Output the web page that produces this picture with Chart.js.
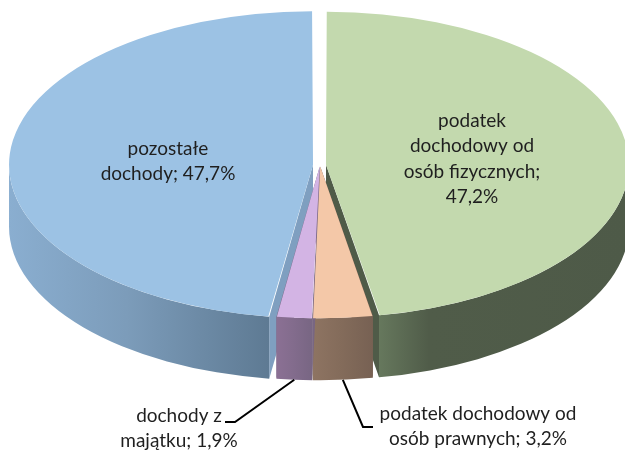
<!DOCTYPE html>
<html lang="pl">
<head>
<meta charset="utf-8">
<title>Struktura dochodów</title>
<script src="https://cdn.jsdelivr.net/npm/chart.js@4"></script>
<style>
  html, body { margin: 0; padding: 0; background: #fff; }
  canvas { display: block; }
</style>
</head>
<body>
<canvas id="wykres" width="625" height="450"></canvas>
<script>
// ─── Data ─────────────────────────────────────────────────────────────────────
const kategorie = [
  'podatek dochodowy od osób fizycznych',
  'podatek dochodowy od osób prawnych',
  'dochody z majątku',
  'pozostałe dochody',
];
const udzialy = [47.2, 3.2, 1.9, 47.7];
const wiersze = [
  ['podatek', 'dochodowy od', 'osób fizycznych;', '{v}'],
  ['podatek dochodowy od', 'osób prawnych; {v}'],
  ['dochody z', 'majątku; {v}'],
  ['pozostałe', 'dochody; {v}'],
];

// ─── Styles ───────────────────────────────────────────────────────────────────
const koloryGora = ['#c3d9ae', '#f4c8a8', '#d3b4e4', '#9cc2e4'];
const wysuniecie = [24, 12, 12, 28];
const kolorySciana = [
  ['#66785d', '#505c49', '#4e5a48'],
  ['#8e7462', '#846c5b', '#776153'],
  ['#8b7094', '#836c8d', '#786683'],
  ['#8aaed0', '#7c9cba', '#5e7a93'],
];
const koloryPrzekroj = ['#4f5b48', '#776153', '#786683', '#7f9fc0'];

// squash of the disc and height of its side
const SPLASZCZENIE = 0.505;
const GLEBOKOSC = 62;

// centre of each text block: x, y of first baseline, line step
const pozycjeEtykiet = [
  { x: 472, y: 127, krok: 25.3 },
  { x: 478, y: 420, krok: 25 },
  { x: 179, y: 422, krok: 25 },
  { x: 168, y: 155, krok: 24.5 },
];
// where the leader ends near the text (only for the two outside labels)
const koncowkiLinii = [null, [[363, 427], [373, 427]], [[235, 422], [225, 422]], null];

// ─── Geometry from the library's arc elements ─────────────────────────────────
function geometria(arc) {
  const off = (arc.options.offset || 0) / 4;
  const kat = (arc.startAngle + arc.endAngle) / 2;
  const fix = 1 - Math.sin(Math.min(Math.PI, arc.circumference));
  return {
    x: arc.x + Math.cos(kat) * off,
    y: arc.y + Math.sin(kat) * off * SPLASZCZENIE,
    r: arc.outerRadius + off * fix,
    kat,
  };
}

function sciana(ctx, arc, i) {
  const g = geometria(arc);
  const ry = g.r * SPLASZCZENIE;
  const a0 = arc.startAngle, a1 = arc.endAngle;
  const punkt = a => [g.x + Math.cos(a) * g.r, g.y + Math.sin(a) * ry];

  // cut faces, seen only on the big slices
  ctx.fillStyle = koloryPrzekroj[i];
  [a0, a1].forEach(a => {
    const p = punkt(a);
    if (Math.sin(a) <= 0) return;
    ctx.beginPath();
    ctx.moveTo(g.x, g.y);
    ctx.lineTo(p[0], p[1]);
    ctx.lineTo(p[0], p[1] + GLEBOKOSC);
    ctx.lineTo(g.x, g.y + GLEBOKOSC);
    ctx.closePath();
    ctx.fill();
  });

  // outer rim, lower half of the ellipse only
  const od = Math.max(a0, 0), doo = Math.min(a1, Math.PI);
  if (doo <= od) return;
  const pOd = punkt(od), pDo = punkt(doo);
  const lewa = Math.min(pOd[0], pDo[0]), prawa = Math.max(pOd[0], pDo[0]);
  const grad = ctx.createLinearGradient(lewa, 0, prawa, 0);
  const stopnie = i === 0 ? [0, 0.2, 1] : [0, 0.45, 1];
  kolorySciana[i].forEach((c, k) => grad.addColorStop(stopnie[k], c));
  ctx.fillStyle = grad;
  ctx.beginPath();
  ctx.ellipse(g.x, g.y, g.r, ry, 0, od, doo);
  ctx.ellipse(g.x, g.y + GLEBOKOSC, g.r, ry, 0, doo, od, true);
  ctx.closePath();
  ctx.fill();
}

// ─── Plugin: 3D disc + data labels ────────────────────────────────────────────
const dysk3d = {
  id: 'dysk3d',
  beforeDatasetDraw(chart, args) {
    const { ctx } = chart;
    const arcs = chart.getDatasetMeta(args.index).data;
    // big slices first, the small front ones paint over them
    const kolejnosc = [0, 3, 1, 2];
    kolejnosc.forEach(i => sciana(ctx, arcs[i], i));

    // squash the library's circle into the top face of the disc
    ctx.save();
    const cy = arcs[0].y;
    ctx.translate(0, cy);
    ctx.scale(1, SPLASZCZENIE);
    ctx.translate(0, -cy);
  },
  afterDatasetDraw(chart) {
    chart.ctx.restore();
  },
  afterDraw(chart) {
    const { ctx } = chart;
    const arcs = chart.getDatasetMeta(0).data;
    ctx.save();
    ctx.font = '19px Lato, "Open Sans", sans-serif';
    ctx.fillStyle = '#1f1f1f';
    ctx.textAlign = 'center';
    ctx.textBaseline = 'alphabetic';
    udzialy.forEach((v, i) => {
      const poz = pozycjeEtykiet[i];
      const tekst = String(v).replace('.', ',') + '%';
      wiersze[i].forEach((w, n) => {
        ctx.fillText(w.replace('{v}', tekst), poz.x, poz.y + n * poz.krok);
      });
      const koniec = koncowkiLinii[i];
      if (koniec) {
        const g = geometria(arcs[i]);
        ctx.beginPath();
        ctx.moveTo(g.x + Math.cos(g.kat) * g.r,
                   g.y + Math.sin(g.kat) * g.r * SPLASZCZENIE + GLEBOKOSC);
        koniec.forEach(p => ctx.lineTo(p[0], p[1]));
        ctx.strokeStyle = '#000';
        ctx.lineWidth = 2;
        ctx.stroke();
      }
    });
    ctx.restore();
  },
};

// ─── Chart ────────────────────────────────────────────────────────────────────
new Chart(document.getElementById('wykres'), {
  type: 'pie',
  data: {
    labels: kategorie,
    datasets: [{
      data: udzialy,
      backgroundColor: koloryGora,
      offset: wysuniecie,
      borderWidth: 0,
      clip: false,
    }],
  },
  options: {
    responsive: false,
    animation: false,
    radius: 298,
    layout: { padding: { left: 15, bottom: 120 } },
    plugins: { legend: { display: false }, tooltip: { enabled: false } },
  },
  plugins: [dysk3d],
});
</script>
</body>
</html>
